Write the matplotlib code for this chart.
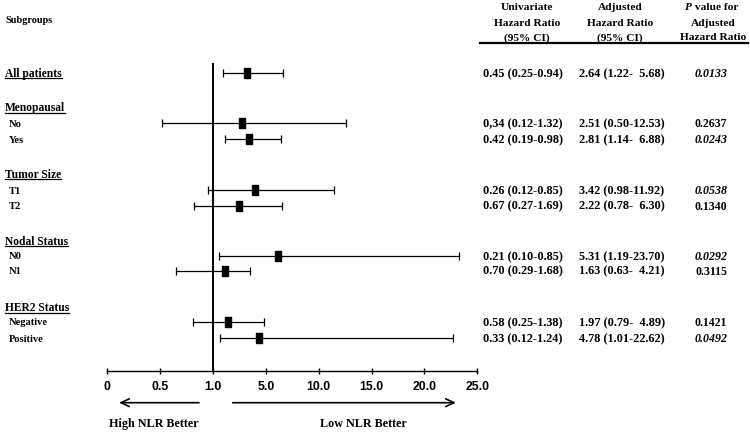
import numpy as np
import matplotlib
matplotlib.use("Agg")
import matplotlib.pyplot as plt

# subgroup rows (in drawing order)
group_names = ["Menopausal", "Tumor Size", "Nodal Status", "HER2 Status"]
row_labels = ["All patients", "No", "Yes", "T1", "T2", "N0", "N1", "Negative", "Positive"]

univariate = ["0.45 (0.25-0.94)", "0,34 (0.12-1.32)", "0.42 (0.19-0.98)",
              "0.26 (0.12-0.85)", "0.67 (0.27-1.69)", "0.21 (0.10-0.85)",
              "0.70 (0.29-1.68)", "0.58 (0.25-1.38)", "0.33 (0.12-1.24)"]
adjusted = ["2.64 (1.22-  5.68)", "2.51 (0.50-12.53)", "2.81 (1.14-  6.88)",
            "3.42 (0.98-11.92)", "2.22 (0.78-  6.30)", "5.31 (1.19-23.70)",
            "1.63 (0.63-  4.21)", "1.97 (0.79-  4.89)", "4.78 (1.01-22.62)"]
p_values = ["0.0133", "0.2637", "0.0243", "0.0538", "0.1340",
            "0.0292", "0.3115", "0.1421", "0.0492"]
p_italic = [True, False, True, True, False, True, False, False, True]

# positions of the marks as drawn in the figure (hazard ratio axis)
hr_plot = np.array([3.57, 3.19, 3.75, 4.16, 2.98, 6.12, 1.92, 2.10, 4.49])
lo_plot = np.array([1.76, 0.515, 1.87, 0.949, 0.822, 1.46, 0.652, 0.809, 1.56])
hi_plot = np.array([6.66, 12.61, 6.47, 11.49, 6.53, 23.29, 3.80, 4.85, 22.66])

tick_vals = [0, 0.5, 1.0, 5.0, 10.0, 15.0, 20.0, 25.0]
tick_text = ["0", "0.5", "1.0", "5.0", "10.0", "15.0", "20.0", "25.0"]

# layout (pixel rows on a 750x433 canvas)
row_y = [73, 123.3, 139.3, 190.5, 205.7, 256, 270.7, 322, 338.2]
group_y = [107.3, 174, 240.7, 307.3]

SERIF = "Liberation Serif"
SANS = "Liberation Sans"
DPI = 100
W, H = 750, 433

fig = plt.figure(figsize=(W / DPI, H / DPI), dpi=DPI)
ax0 = fig.add_axes([0, 0, 1, 1])
ax0.set_xlim(0, W)
ax0.set_ylim(H, 0)
ax0.axis("off")


def base(y, size):
    # baseline for a text whose cap middle sits at y
    return y + 0.33 * size * DPI / 72


def txt(x, y, s, size, ha="left", style="normal"):
    return ax0.text(x, base(y, size), s, fontsize=size, family=SERIF,
                    weight="bold", style=style, ha=ha, va="baseline")


# left column
txt(5, 20, "Subgroups", 7.4)
headers = [txt(5, row_y[0], row_labels[0], 8.3)]
for name, y in zip(group_names, group_y):
    headers.append(txt(5, y, name, 8.3))
for lab, y in zip(row_labels[1:], row_y[1:]):
    txt(8.5, y, lab, 7.6)

# column headings
head_rows = [6.7, 22.7, 36.5]
for s, y in zip(["Univariate", "Hazard Ratio", "(95% CI)"], head_rows):
    txt(526.7, y, s, 8.2, ha="center")
for s, y in zip(["Adjusted", "Hazard Ratio", "(95% CI)"], head_rows):
    txt(620, y, s, 8.2, ha="center")
txt(692, head_rows[0], "P", 8.2, ha="right", style="italic")
txt(692, head_rows[0], " value for", 8.2)
for s, y in zip(["Adjusted", "Hazard Ratio"], head_rows[1:]):
    txt(713, y, s, 8.2, ha="center")
ax0.plot([480, 748], [42.8, 42.8], color="black", lw=1.6)

# table values
for y, u, a, p, it in zip(row_y, univariate, adjusted, p_values, p_italic):
    txt(483, y, u, 8.8)
    txt(579, y, a, 8.8)
    txt(711, y, p, 8.6, ha="center", style="italic" if it else "normal")

# bottom captions and arrows
txt(153.5, 423.3, "High NLR Better", 8.7, ha="center")
txt(363, 423.3, "Low NLR Better", 8.7, ha="center")
arrow = dict(arrowstyle="->,head_length=0.6,head_width=0.28", lw=1.2, color="black",
             shrinkA=0, shrinkB=0)
ax0.annotate("", xy=(119, 402.7), xytext=(199, 402.7), arrowprops=arrow)
ax0.annotate("", xy=(456, 402.7), xytext=(232.7, 402.7), arrowprops=arrow)

# forest plot axes
left, right, top, bottom = 107.3, 477.3, 60, 370.5
ax = fig.add_axes([left / W, (H - bottom) / H, (right - left) / W, (bottom - top) / H])
ax.patch.set_visible(False)
idx = np.arange(len(tick_vals), dtype=float)
ax.set_xscale("function", functions=(lambda v: np.interp(v, tick_vals, idx),
                                     lambda u: np.interp(u, idx, tick_vals)))
ax.set_xlim(0, 25)
ax.set_ylim(bottom, top)
for side in ["top", "left", "right"]:
    ax.spines[side].set_visible(False)
ax.spines["bottom"].set_linewidth(1.0)
ax.set_yticks([])
ax.set_xticks(tick_vals)
ax.set_xticklabels(tick_text, fontfamily=SANS, fontweight="bold", fontsize=8.8)
ax.tick_params(axis="x", direction="inout", length=5, width=1.0, pad=5.0)

ax.vlines(1.0, 63, bottom, color="black", lw=1.4)
box = [(-0.33, -0.5), (0.33, -0.5), (0.33, 0.5), (-0.33, 0.5), (-0.33, -0.5)]
ax.errorbar(hr_plot, row_y, xerr=[hr_plot - lo_plot, hi_plot - hr_plot],
            fmt="none", ecolor="black", elinewidth=0.9, capsize=3.2, capthick=0.9,
            clip_on=False)
ax.plot(hr_plot, row_y, linestyle="none", marker=box, markersize=6.5,
        color="black", clip_on=False)

# underline the group headings
fig.canvas.draw()
inv = ax0.transData.inverted()
for t, y in zip(headers, [row_y[0]] + group_y):
    bb = t.get_window_extent()
    x0 = inv.transform((bb.x0, bb.y0))[0]
    x1 = inv.transform((bb.x1, bb.y0))[0]
    yl = base(y, 8.3) + 1.6
    ax0.plot([x0, x1], [yl, yl], color="black", lw=0.9)

fig.savefig("out.png", dpi=DPI)
